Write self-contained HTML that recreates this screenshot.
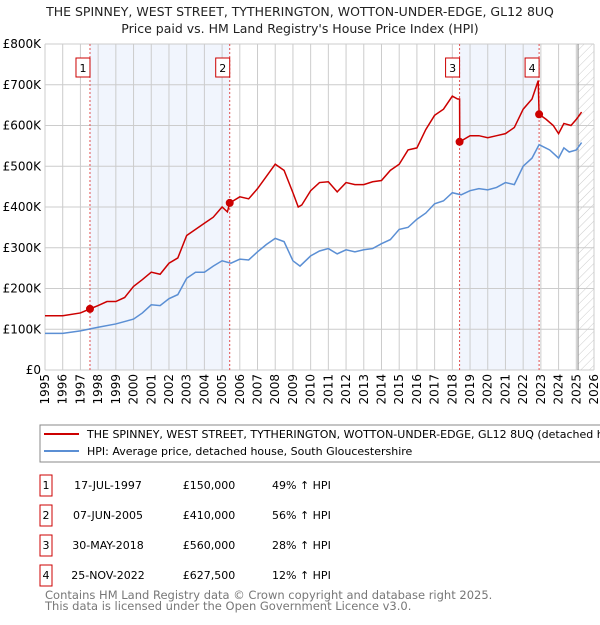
<!DOCTYPE html>
<html><head><meta charset="utf-8"><style>
body{margin:0;background:#fff;font-family:"Liberation Sans","DejaVu Sans",sans-serif;}
svg text{font-family:"DejaVu Sans","Liberation Sans",sans-serif;}
</style></head><body>
<svg id="c" width="600" height="620" viewBox="0 0 600 620" xmlns="http://www.w3.org/2000/svg">
<text x="300" y="16" text-anchor="middle" font-size="12.5" fill="#222">THE SPINNEY, WEST STREET, TYTHERINGTON, WOTTON-UNDER-EDGE, GL12 8UQ</text>
<text x="300" y="33" text-anchor="middle" font-size="12.5" fill="#222">Price paid vs. HM Land Registry's House Price Index (HPI)</text>
<defs><pattern id="hatch" width="6" height="6" patternUnits="userSpaceOnUse" patternTransform="rotate(45)"><line x1="0" y1="0" x2="0" y2="6" stroke="#ccc" stroke-width="1"/></pattern></defs>
<g id="grid"></g><g id="marks"></g>
<rect x="40" y="425" width="570" height="37" fill="#fff" stroke="#888"/>
<line x1="44" y1="434" x2="79" y2="434" stroke="#cc0000" stroke-width="2"/>
<text x="87" y="438" font-size="11" fill="#000">THE SPINNEY, WEST STREET, TYTHERINGTON, WOTTON-UNDER-EDGE, GL12 8UQ (detached house)</text>
<line x1="44" y1="451" x2="79" y2="451" stroke="#5b8fd4" stroke-width="2"/>
<text x="87" y="455" font-size="11" fill="#000">HPI: Average price, detached house, South Gloucestershire</text>
<g id="table"></g>
<text x="45" y="599" font-size="11.5" fill="#777">Contains HM Land Registry data © Crown copyright and database right 2025.</text>
<text x="45" y="610" font-size="11.5" fill="#777">This data is licensed under the Open Government Licence v3.0.</text>
</svg>
<script>
const hpiYears=[1995,1996,1997,1998,1999,2000,2000.5,2001,2001.5,2002,2002.5,2003,2003.5,2004,2004.5,2005,2005.5,2006,2006.5,2007,2007.5,2008,2008.5,2009,2009.4,2010,2010.5,2011,2011.5,2012,2012.5,2013,2013.5,2014,2014.5,2015,2015.5,2016,2016.5,2017,2017.5,2018,2018.5,2019,2019.5,2020,2020.5,2021,2021.5,2022,2022.5,2022.9,2023.5,2024,2024.3,2024.6,2025,2025.3];
const hpiValues=[90,90,96,105,113,125,140,160,158,175,185,225,240,240,255,268,262,272,270,290,308,323,315,268,255,280,292,298,285,295,290,295,298,310,320,345,350,370,385,408,415,435,430,440,445,442,448,460,455,500,520,553,540,520,545,535,540,558];
const paidYears=[1995,1996,1997,1997.54,1998,1998.5,1999,1999.5,2000,2000.5,2001,2001.5,2002,2002.5,2003,2003.5,2004,2004.5,2005,2005.3,2005.43,2006,2006.5,2007,2007.5,2008,2008.5,2009,2009.3,2009.5,2010,2010.5,2011,2011.5,2012,2012.5,2013,2013.5,2014,2014.5,2015,2015.5,2016,2016.5,2017,2017.5,2018,2018.3,2018.41,2018.42,2019,2019.5,2020,2020.5,2021,2021.5,2022,2022.5,2022.85,2022.9,2023.3,2023.7,2024,2024.3,2024.7,2025,2025.3];
const paidValues=[133,133,140,150,158,168,168,178,205,222,240,235,262,275,330,345,360,375,400,388,410,425,420,445,475,505,490,435,400,405,440,460,462,437,460,455,455,462,465,490,505,540,545,590,625,640,672,665,665,560,575,575,570,575,580,595,640,665,710,627.5,615,600,580,605,600,615,633];
const saleLabels=["1","2","3","4"];
const saleYears=[1997.54,2005.43,2018.41,2022.9];
const salePrices=[150,410,560,627.5];
const saleDates=["17-JUL-1997","07-JUN-2005","30-MAY-2018","25-NOV-2022"];
const salePriceText=["£150,000","£410,000","£560,000","£627,500"];
const saleHpiText=["49% ↑ HPI","56% ↑ HPI","28% ↑ HPI","12% ↑ HPI"];
const yTicks=[0,100,200,300,400,500,600,700,800];
const yTickLabels=["£0","£100K","£200K","£300K","£400K","£500K","£600K","£700K","£800K"];
const xTicks=[1995,1996,1997,1998,1999,2000,2001,2002,2003,2004,2005,2006,2007,2008,2009,2010,2011,2012,2013,2014,2015,2016,2017,2018,2019,2020,2021,2022,2023,2024,2025,2026];

const L=45,R=594,T=44,B=370;
const X=y=>L+(y-1995)/(2026-1995)*(R-L);
const Y=v=>B-v/800*(B-T);
const NS="http://www.w3.org/2000/svg";
function mk(tag,at,parent){const e=document.createElementNS(NS,tag);for(const k in at)e.setAttribute(k,at[k]);parent.appendChild(e);return e;}
const g=document.getElementById('grid'),m=document.getElementById('marks'),tb=document.getElementById('table');
for(let i=0;i<saleYears.length;i+=2){const r=mk('rect',{x:X(saleYears[i]),y:T,width:X(saleYears[i+1])-X(saleYears[i]),height:B-T,fill:'#eef3fd',opacity:0.8},g);

}
const hx=X(2025.1);
const hr=mk('rect',{x:hx,y:T,width:R-hx,height:B-T,fill:'url(#hatch)'},g);


yTicks.forEach((v,i)=>{mk('line',{x1:L,x2:R,y1:Y(v),y2:Y(v),stroke:'#ccc','stroke-width':1},g);
const t=mk('text',{x:L-4,y:Y(v)+4,'text-anchor':'end','font-size':12,fill:'#000'},g);t.textContent=yTickLabels[i];

});
xTicks.forEach(yr=>{mk('line',{x1:X(yr),x2:X(yr),y1:T,y2:B,stroke:'#ccc','stroke-width':1},g);
const t=mk('text',{transform:`translate(${X(yr)+4},${B+4}) rotate(-90)`,'text-anchor':'end','font-size':12,fill:'#000'},g);t.textContent=yr;

});
mk('line',{x1:hx,x2:hx,y1:T,y2:B,stroke:'#888','stroke-width':1},g);
saleYears.forEach((yr,i)=>{const l=mk('line',{x1:X(yr),x2:X(yr),y1:T,y2:B,stroke:'#e05050','stroke-width':1,'stroke-dasharray':'2,2'},m);

});
const hp=mk('polyline',{points:hpiYears.map((y,i)=>X(y)+','+Y(hpiValues[i])).join(' '),fill:'none',stroke:'#5b8fd4','stroke-width':1.5},m);


const pp=mk('polyline',{points:paidYears.map((y,i)=>X(y)+','+Y(paidValues[i])).join(' '),fill:'none',stroke:'#cc0000','stroke-width':1.5},m);


saleYears.forEach((yr,i)=>{const c=mk('circle',{cx:X(yr),cy:Y(salePrices[i]),r:4,fill:'#cc0000'},m);


const bx=mk('rect',{x:X(yr)-14,y:58,width:14,height:19,fill:'#fff',stroke:'#c00'},m);


const t=mk('text',{x:X(yr)-7,y:72,'text-anchor':'middle','font-size':11,fill:'#000'},m);t.textContent=saleLabels[i];


const ry=475+i*30;
const b=mk('rect',{x:40,y:ry,width:12,height:21,fill:'#fff',stroke:'#c00'},tb);


const cells=[[46,saleLabels[i],'middle'],[108,saleDates[i],'middle'],[209,salePriceText[i],'middle'],[272,saleHpiText[i],'start']];
cells.forEach(([x,s,a])=>{const tt=mk('text',{x:x,y:ry+14,'text-anchor':a,'font-size':11,fill:'#000'},tb);tt.textContent=s;

});});
</script>
</body></html>
